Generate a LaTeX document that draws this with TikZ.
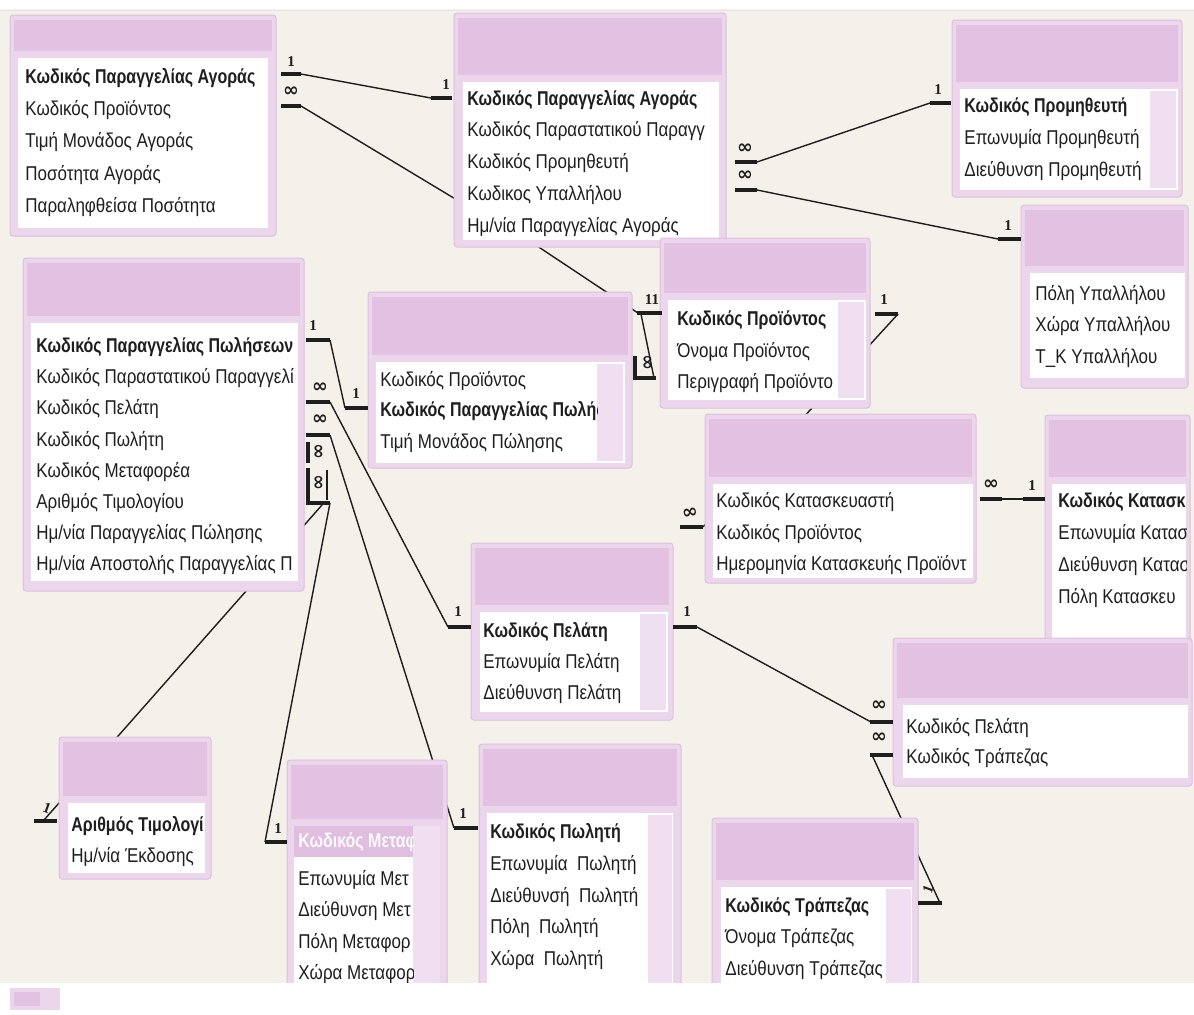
\documentclass[tikz,border=0pt]{standalone}
\usepackage{fontspec}
\setmainfont{Liberation Sans}
\newfontfamily\rowf{Liberation Sans}[FakeStretch=0.85]
\newfontfamily\rowbf{Liberation Sans}[FakeStretch=0.80]
\newfontfamily\numf{Liberation Serif}
\newfontfamily\symf{DejaVu Sans}
\definecolor{bgc}{RGB}{244,240,234}
\definecolor{framec}{RGB}{236,214,236}
\definecolor{framed}{RGB}{222,192,222}
\definecolor{titlec}{RGB}{226,193,226}
\definecolor{scrollc}{RGB}{240,223,240}
\definecolor{selc}{RGB}{224,190,224}
\definecolor{ink}{RGB}{30,30,30}
\tikzset{
 row/.style={anchor=west, inner sep=0pt, font=\rowf\fontsize{10}{12}\selectfont, text=ink},
 keyrow/.style={anchor=west, inner sep=0pt, font=\rowbf\bfseries\fontsize{10}{12}\selectfont, text=ink},
 selrow/.style={anchor=west, inner sep=0pt, font=\rowbf\bfseries\fontsize{10}{12}\selectfont, text=white!92!selc},
 link/.style={line width=0.7pt, ink},
 barline/.style={line width=2.2pt, ink},
 one/.style={font=\numf\bfseries\fontsize{7.5}{7.5}\selectfont, inner sep=0pt, text=ink},
 many/.style={font=\symf\bfseries\fontsize{9.5}{9.5}\selectfont, inner sep=0pt, text=ink},
}
\newcommand\tbl[8]{%
  \fill[framec, draw=framed, line width=0.5pt, rounded corners=1.5pt] (#1,#2) rectangle (#3,#4);
  \fill[titlec] ({#1+4},{#2+5}) rectangle ({#3-4},{#6-7});
  \fill[white] (#5,#6) rectangle (#7,#8);
}
\newcommand\scrl[4]{\fill[scrollc] (#1,#2) rectangle (#3,#4);}
\newcommand\mkbar[2]{\draw[barline] (#1) -- (#2);}
\begin{document}
\begin{tikzpicture}[x=0.5pt,y=-0.5pt]
\useasboundingbox (0,0) rectangle (1194,1014);
\fill[white] (0,0) rectangle (1194,1014);
\fill[bgc] (0,9) rectangle (1194,983);
\draw[framed!50, line width=0.5pt] (0,10) -- (1194,10);

% ---------- connector end points ----------
\coordinate (a1) at (301,74);   \coordinate (b1) at (431,98);
\coordinate (a2) at (301,106);  \coordinate (b2) at (462,203);
\coordinate (a3) at (757,162);  \coordinate (b3) at (930,103);
\coordinate (a4) at (757,190);  \coordinate (b4) at (998,239);
\coordinate (a5) at (480,208);  \coordinate (b5) at (638,313);
\coordinate (a6) at (654,378);  \coordinate (b6) at (641,314);
\coordinate (a7) at (330,340);  \coordinate (b7) at (345,408);
\coordinate (a8) at (330,402);  \coordinate (b8) at (448,627);
\coordinate (a9) at (330,435);  \coordinate (b9) at (454,828);
\coordinate (a10) at (330,503); \coordinate (b10) at (265,842);
\coordinate (a11) at (322,505); \coordinate (b11) at (44,820);
\coordinate (a13) at (898,314); \coordinate (b13) at (703,527);
\coordinate (a14) at (1002,499);\coordinate (b14) at (1023,499);
\coordinate (a15) at (697,627); \coordinate (b15) at (871,722);
\coordinate (a16) at (872,755); \coordinate (b16) at (940,903);

% ---------- connectors (behind tables) ----------
\foreach \p in {1,2,3,4,5,6,7,8,9,10,11,13,14,15,16}{\draw[link] (a\p) -- (b\p);}

% ---------- tables ----------
% T1
\tbl{10}{15}{276}{236}{18}{58}{268}{228}
\begin{scope}\clip (18,58) rectangle (268,228);
\node[keyrow] (t1r1) at (25,78) {Κωδικός Παραγγελίας Αγοράς};
\node[row] (t1r2) at (25,110) {Κωδικός Προϊόντος};
\node[row] (t1r3) at (25,142) {Τιμή Μονάδος Αγοράς};
\node[row] (t1r4) at (25,175) {Ποσότητα Αγοράς};
\node[row] (t1r5) at (25,207) {Παραληφθείσα Ποσότητα};
\end{scope}
% T2
\tbl{454}{13}{726}{247}{463}{82}{719}{240}
\begin{scope}\clip (463,82) rectangle (719,240);
\node[keyrow] (t2r1) at (467,100) {Κωδικός Παραγγελίας Αγοράς};
\node[row] (t2r2) at (467,131) {Κωδικός Παραστατικού Παραγγ};
\node[row] (t2r3) at (467,163) {Κωδικός Προμηθευτή};
\node[row] (t2r4) at (467,195) {Κωδικος Υπαλλήλου};
\node[row] (t2r5) at (467,227) {Ημ/νία Παραγγελίας Αγοράς};
\end{scope}
% T3
\tbl{952}{20}{1182}{197}{960}{89}{1178}{190}
\scrl{1150}{91}{1176}{188}
\begin{scope}\clip (960,89) rectangle (1150,190);
\node[keyrow] (t3r1) at (964,107) {Κωδικός Προμηθευτή};
\node[row] (t3r2) at (964,139) {Επωνυμία Προμηθευτή};
\node[row] (t3r3) at (964,171) {Διεύθυνση Προμηθευτή};
\end{scope}
% T4
\tbl{1021}{205}{1188}{388}{1030}{273}{1185}{378}
\begin{scope}\clip (1030,273) rectangle (1185,378);
\node[row] (t4r1) at (1035,295) {Πόλη Υπαλλήλου};
\node[row] (t4r2) at (1035,326) {Χώρα Υπαλλήλου};
\node[row] (t4r3) at (1035,358) {Τ\_Κ Υπαλλήλου};
\end{scope}
% T5
\tbl{23}{258}{304}{591}{31}{323}{298}{581}
\begin{scope}\clip (31,323) rectangle (298,581);
\node[keyrow] (t5r1) at (36,347) {Κωδικός Παραγγελίας Πωλήσεων};
\node[row] (t5r2) at (36,378) {Κωδικός Παραστατικού Παραγγελί};
\node[row] (t5r3) at (36,409) {Κωδικός Πελάτη};
\node[row] (t5r4) at (36,441) {Κωδικός Πωλήτη};
\node[row] (t5r5) at (36,472) {Κωδικός Μεταφορέα};
\node[row] (t5r6) at (36,503) {Αριθμός Τιμολογίου};
\node[row] (t5r7) at (36,534) {Ημ/νία Παραγγελίας Πώλησης};
\node[row] (t5r8) at (36,565) {Ημ/νία Αποστολής Παραγγελίας Π};
\end{scope}
% T6
\tbl{368}{292}{632}{468}{376}{362}{625}{463}
\scrl{597}{364}{623}{461}
\begin{scope}\clip (376,362) rectangle (597,463);
\node[row] (t6r1) at (380,381) {Κωδικός Προϊόντος};
\node[keyrow] (t6r2) at (380,411) {Κωδικός Παραγγελίας Πωλήσ};
\node[row] (t6r3) at (380,443) {Τιμή Μονάδος Πώλησης};
\end{scope}
% T7
\tbl{660}{238}{870}{408}{668}{300}{866}{400}
\scrl{838}{302}{864}{398}
\begin{scope}\clip (668,300) rectangle (838,400);
\node[keyrow] (t7r1) at (677,320) {Κωδικός Προϊόντος};
\node[row] (t7r2) at (677,352) {Όνομα Προϊόντος};
\node[row] (t7r3) at (677,383) {Περιγραφή Προϊόντο};
\end{scope}
% T8
\tbl{705}{414}{976}{583}{713}{484}{973}{578}
\begin{scope}\clip (713,484) rectangle (973,578);
\node[row] (t8r1) at (716,502) {Κωδικός Κατασκευαστή};
\node[row] (t8r2) at (716,534) {Κωδικός Προϊόντος};
\node[row] (t8r3) at (716,565) {Ημερομηνία Κατασκευής Προϊόντ};
\end{scope}
% T9
\tbl{1045}{415}{1190}{650}{1052}{484}{1186}{645}
\begin{scope}\clip (1052,484) rectangle (1186,645);
\node[keyrow] (t9r1) at (1058,502) {Κωδικός Κατασκ};
\node[row] (t9r2) at (1058,534) {Επωνυμία Κατασ};
\node[row] (t9r3) at (1058,566) {Διεύθυνση Κατασ};
\node[row] (t9r4) at (1058,598) {Πόλη Κατασκευ};
\end{scope}
% T10
\tbl{471}{543}{673}{720}{480}{612}{668}{712}
\scrl{640}{614}{666}{710}
\begin{scope}\clip (480,612) rectangle (640,712);
\node[keyrow] (t10r1) at (483,632) {Κωδικός Πελάτη};
\node[row] (t10r2) at (483,663) {Επωνυμία Πελάτη};
\node[row] (t10r3) at (483,694) {Διεύθυνση Πελάτη};
\end{scope}
% T11
\tbl{893}{638}{1192}{786}{903}{705}{1188}{778}
\begin{scope}\clip (903,705) rectangle (1188,778);
\node[row] (t11r1) at (906,728) {Κωδικός Πελάτη};
\node[row] (t11r2) at (906,758) {Κωδικός Τράπεζας};
\end{scope}
% T12
\tbl{59}{737}{211}{879}{68}{803}{205}{873}
\begin{scope}\clip (68,803) rectangle (205,873);
\node[keyrow] (t12r1) at (71,826) {Αριθμός Τιμολογί};
\node[row] (t12r2) at (71,857) {Ημ/νία Έκδοσης};
\end{scope}
% T13
\tbl{287}{760}{447}{1000}{294}{826}{440}{990}
\fill[selc] (294,826) rectangle (413,857);
\scrl{413}{826}{440}{990}
\begin{scope}\clip (294,826) rectangle (413,990);
\node[selrow] (t13r1) at (298,842) {Κωδικός Μεταφ};
\node[row] (t13r2) at (298,880) {Επωνυμία Μετ};
\node[row] (t13r3) at (298,911) {Διεύθυνση Μετ};
\node[row] (t13r4) at (298,943) {Πόλη Μεταφορ};
\node[row] (t13r5) at (298,974) {Χώρα Μεταφορ};
\end{scope}
% T14
\tbl{479}{744}{681}{1000}{487}{813}{673}{990}
\scrl{648}{815}{672}{990}
\begin{scope}\clip (487,813) rectangle (648,990);
\node[keyrow] (t14r1) at (490,833) {Κωδικός Πωλητή};
\node[row] (t14r2) at (490,865) {Επωνυμία \ Πωλητή};
\node[row] (t14r3) at (490,897) {Διεύθυνσή \ Πωλητή};
\node[row] (t14r4) at (490,928) {Πόλη \ Πωλητή};
\node[row] (t14r5) at (490,960) {Χώρα \ Πωλητή};
\end{scope}
% T15
\tbl{712}{818}{918}{1000}{721}{887}{912}{990}
\scrl{886}{889}{911}{990}
\begin{scope}\clip (721,887) rectangle (886,990);
\node[keyrow] (t15r1) at (725,907) {Κωδικός Τράπεζας};
\node[row] (t15r2) at (725,938) {Όνομα Τράπεζας};
\node[row] (t15r3) at (725,970) {Διεύθυνση Τράπεζας};
\end{scope}

% ---------- relationship end marks ----------
\mkbar{281,74}{a1}        \node[one] (m1a) at (291,62) {1};
\mkbar{b1}{452,98}        \node[one] (m1b) at (446,85) {1};
\mkbar{281,106}{a2}       \node[many] (m2a) at (291,92) {∞};
\mkbar{735,162}{a3}       \node[many] (m3a) at (745,149) {∞};
\mkbar{b3}{951,103}       \node[one] (m3b) at (938,90) {1};
\mkbar{735,190}{a4}       \node[many] (m4a) at (745,176) {∞};
\mkbar{b4}{1021,239}      \node[one] (m4b) at (1008,226) {1};
\mkbar{637,313}{662,313}  \node[one] (m5b) at (652,300) {11};
\mkbar{633,378}{656,378}  \mkbar{635,356}{635,379}
\node[many, rotate=90] (m6a) at (649,363) {∞};
\mkbar{306,340}{a7}       \node[one] (m7a) at (313,326) {1};
\mkbar{b7}{368,408}       \node[one] (m7b) at (356,394) {1};
\mkbar{306,402}{a8}       \node[many] (m8a) at (320,388) {∞};
\mkbar{b8}{471,627}       \node[one] (m8b) at (458,612) {1};
\mkbar{306,435}{a9}       \node[many] (m9a) at (320,420) {∞};
\mkbar{b9}{478,828}       \node[one] (m9b) at (463,814) {1};
\mkbar{308,442}{308,463}  \node[many, rotate=90] (m10x) at (320,452) {∞};
\mkbar{308,468}{308,505}  \node[many, rotate=90] (m10a) at (320,483) {∞};
\mkbar{308,503}{a10}      \draw[link] (327,470) -- (327,500);
\mkbar{b10}{287,842}      \node[one] (m10b) at (278,829) {1};
\mkbar{34,821}{57,821}    \node[one, rotate=-20] (m11b) at (47,808) {1};
\mkbar{875,314}{a13}      \node[one] (m13a) at (884,300) {1};
\mkbar{680,527}{b13}      \node[many, rotate=10] (m13b) at (690,513) {∞};
\mkbar{980,499}{a14}      \node[many] (m14a) at (991,485) {∞};
\mkbar{b14}{1045,499}     \node[one] (m14b) at (1032,486) {1};
\mkbar{673,627}{a15}      \node[one] (m15a) at (687,612) {1};
\mkbar{870,722}{893,722}  \node[many] (m15b) at (879,706) {∞};
\mkbar{870,755}{893,755}  \node[many] (m16a) at (879,738) {∞};
\mkbar{918,903}{942,903}  \node[one, rotate=70] (m16b) at (928,889) {1};

% ---------- bottom strip ----------
\fill[white] (0,983) rectangle (1194,1014);
\fill[framec] (10,988) rectangle (60,1010);
\fill[titlec] (14,992) rectangle (40,1006);
\end{tikzpicture}
\end{document}
